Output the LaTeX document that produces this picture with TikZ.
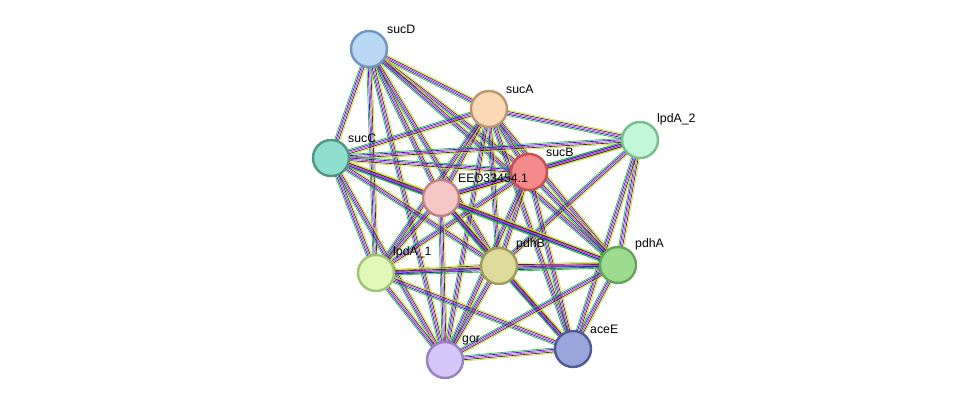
\documentclass[tikz,border=0pt]{standalone}
\usepackage{fontspec}
\setmainfont{Liberation Sans}
\usetikzlibrary{calc}
\definecolor{eg}{HTML}{22BB22}
\definecolor{eb}{HTML}{2222DD}
\definecolor{em}{HTML}{DD22DD}
\definecolor{ek}{HTML}{333333}
\definecolor{ey}{HTML}{CCDD22}
\newcommand\sedge[2]{\foreach \c/\o in {eg/-2.6,eb/-1.3,em/0,ek/1.3,ey/2.6}{\draw[\c,line width=0.7pt] ($(#1)!\o pt!90:(#2)$) -- ($(#2)!\o pt!-90:(#1)$);}}
\tikzset{prot/.style={circle,minimum size=36pt,inner sep=0pt,line width=2.4pt},
lab/.style={font=\fontsize{12.3}{13}\selectfont,anchor=south west,inner sep=1pt}}
\begin{document}
\begin{tikzpicture}[x=1pt,y=-1pt]
\useasboundingbox[fill=white] (0,0) rectangle (975,406);
\coordinate (sucD) at (369,49);
\coordinate (sucA) at (489,109);
\coordinate (lpdA2) at (640,140);
\coordinate (sucB) at (529,172);
\coordinate (sucC) at (331,158);
\coordinate (EED) at (441,198);
\coordinate (lpdA1) at (376,273);
\coordinate (pdhB) at (499,266);
\coordinate (pdhA) at (618,265);
\coordinate (aceE) at (573,349);
\coordinate (gor) at (445,360);
\foreach \a/\b in {sucD/sucA,sucD/sucC,sucD/sucB,sucD/EED,sucD/lpdA1,sucD/pdhB,sucD/gor,sucD/pdhA,
sucA/lpdA2,sucA/sucB,sucA/sucC,sucA/EED,sucA/lpdA1,sucA/pdhB,sucA/pdhA,sucA/aceE,sucA/gor,
lpdA2/sucB,lpdA2/sucC,lpdA2/EED,lpdA2/pdhB,lpdA2/pdhA,lpdA2/aceE,
sucB/sucC,sucB/EED,sucB/lpdA1,sucB/pdhB,sucB/pdhA,sucB/aceE,sucB/gor,
sucC/EED,sucC/lpdA1,sucC/pdhB,sucC/pdhA,sucC/gor,
EED/lpdA1,EED/pdhB,EED/pdhA,EED/aceE,EED/gor,
lpdA1/pdhB,lpdA1/pdhA,lpdA1/aceE,lpdA1/gor,
pdhB/pdhA,pdhB/aceE,pdhB/gor,pdhA/aceE,pdhA/gor,aceE/gor}{\sedge{\a}{\b}}
\node[prot,fill={rgb,255:red,184;green,216;blue,244},draw={rgb,255:red,110;green,150;blue,190}] (nsucD) at (sucD) {};
\node[prot,fill={rgb,255:red,251;green,217;blue,182},draw={rgb,255:red,190;green,150;blue,110}] (nsucA) at (sucA) {};
\node[prot,fill={rgb,255:red,194;green,247;blue,216},draw={rgb,255:red,120;green,190;blue,140}] (nlpdA2) at (lpdA2) {};
\node[prot,fill={rgb,255:red,245;green,138;blue,138},draw={rgb,255:red,200;green,80;blue,80}] (nsucB) at (sucB) {};
\node[prot,fill={rgb,255:red,143;green,223;blue,208},draw={rgb,255:red,80;green,150;blue,130}] (nsucC) at (sucC) {};
\node[prot,fill={rgb,255:red,245;green,198;blue,198},draw={rgb,255:red,190;green,130;blue,130}] (nEED) at (EED) {};
\node[prot,fill={rgb,255:red,224;green,248;blue,184},draw={rgb,255:red,160;green,195;blue,120}] (nlpdA1) at (lpdA1) {};
\node[prot,fill={rgb,255:red,222;green,219;blue,154},draw={rgb,255:red,160;green,155;blue,90}] (npdhB) at (pdhB) {};
\node[prot,fill={rgb,255:red,157;green,219;blue,143},draw={rgb,255:red,100;green,165;blue,90}] (npdhA) at (pdhA) {};
\node[prot,fill={rgb,255:red,154;green,165;blue,220},draw={rgb,255:red,80;green,90;blue,150}] (naceE) at (aceE) {};
\node[prot,fill={rgb,255:red,213;green,197;blue,248},draw={rgb,255:red,150;green,130;blue,190}] (ngor) at (gor) {};
\node[lab] (lsucD) at (386,35) {sucD};
\node[lab] (lsucA) at (505,95) {sucA};
\node[lab] (llpdA2) at (656,126) {lpdA\_2};
\node[lab] (lsucB) at (545,158) {sucB};
\node[lab] (lsucC) at (347,144) {sucC};
\node[lab] (lEED) at (457,184) {EED33454.1};
\node[lab] (llpdA1) at (392,259) {lpdA\_1};
\node[lab] (lpdhB) at (515,251) {pdhB};
\node[lab] (lpdhA) at (634,251) {pdhA};
\node[lab] (laceE) at (589,335) {aceE};
\node[lab] (lgor) at (461,346) {gor};
\end{tikzpicture}
\end{document}
